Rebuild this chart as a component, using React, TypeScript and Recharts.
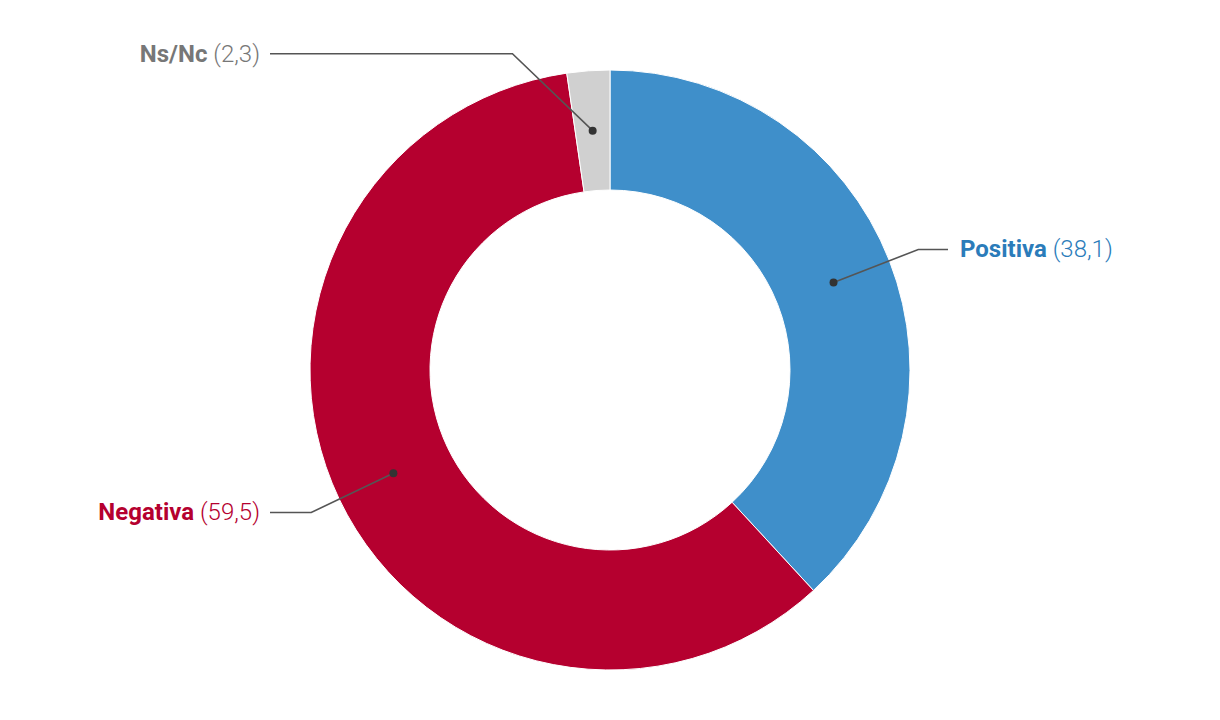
import React from "react";
import { PieChart, Pie, Cell } from "recharts";

const categories = ["Positiva", "Negativa", "Ns/Nc"];
const values = [38.1, 59.5, 2.3];
const valueLabels = ["38,1", "59,5", "2,3"];

const sliceColors = ["#3f8fca", "#b5002f", "#d0d0d0"];
const textColors = ["#2b7cba", "#b5002f", "#777777"];

const data = categories.map((name, i) => ({ name, value: values[i], label: valueLabels[i], idx: i }));

const RADIAN = Math.PI / 180;

const renderLabel = (props: any) => {
  const { cx, cy, midAngle, innerRadius, outerRadius, index } = props;
  const i = index as number;
  const midR = (innerRadius + outerRadius) / 2;
  const dx = cx + midR * Math.cos(-midAngle * RADIAN);
  const dy = cy + midR * Math.sin(-midAngle * RADIAN);
  // elbow angle: small slices near the top get nudged outward
  const elbowAngle = i === 2 ? midAngle + 13 : midAngle;
  const er = outerRadius + 31;
  const ex = cx + er * Math.cos(-elbowAngle * RADIAN);
  const ey = cy + er * Math.sin(-elbowAngle * RADIAN);
  const right = ex > cx;
  const lx = right ? cx + 338 : cx - 340;
  const tx = right ? cx + 350 : cx - 350;
  return (
    <g key={`lab-${i}`}>
      <polyline points={`${dx},${dy} ${ex},${ey} ${lx},${ey}`} fill="none" stroke="#555" strokeWidth={1.6} />
      <circle cx={dx} cy={dy} r={4} fill="#333" />
      <text
        x={tx}
        y={ey}
        textAnchor={right ? "start" : "end"}
        dominantBaseline="central"
        fontFamily="Roboto, 'Noto Sans', sans-serif"
        fontSize={24}
        fill={textColors[i]}
      >
        <tspan fontWeight={700}>{categories[i]}</tspan>
        <tspan fontWeight={300}>{` (${valueLabels[i]})`}</tspan>
      </text>
    </g>
  );
};

export default function App() {
  return (
    <div style={{ width: 1204, height: 704, background: "#fff" }}>
      <PieChart width={1204} height={704}>
        <Pie
          data={data}
          dataKey="value"
          nameKey="name"
          cx={597}
          cy={357}
          innerRadius={180}
          outerRadius={300}
          startAngle={90}
          endAngle={-270}
          stroke="#ffffff"
          strokeWidth={1}
          label={renderLabel}
          labelLine={false}
          isAnimationActive={false}
        >
          {data.map((d, i) => (
            <Cell key={d.name} fill={sliceColors[i]} />
          ))}
        </Pie>
      </PieChart>
    </div>
  );
}
